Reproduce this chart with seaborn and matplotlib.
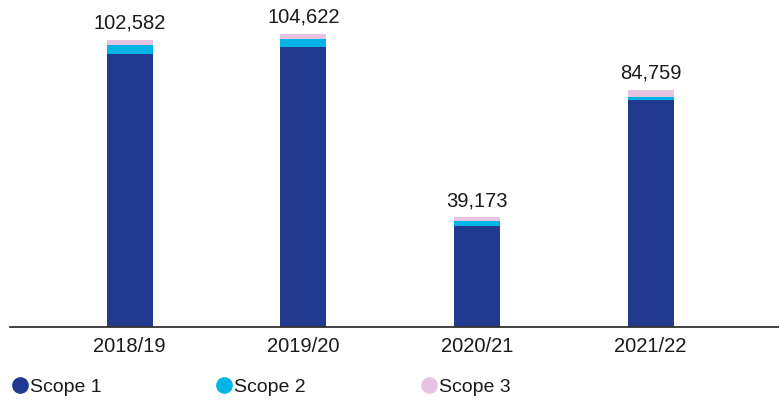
import matplotlib
matplotlib.use("Agg")
import matplotlib.pyplot as plt
import seaborn as sns
import pandas as pd
from matplotlib.lines import Line2D

years = ["2018/19", "2019/20", "2020/21", "2021/22"]
totals = [102582, 104622, 39173, 84759]
scope2 = [3200, 2850, 1800, 1100]
scope3 = [2100, 1800, 1400, 2500]
scope1 = [t - s2 - s3 for t, s2, s3 in zip(totals, scope2, scope3)]
labels = ["Scope 1", "Scope 2", "Scope 3"]
colors = ["#213a8f", "#00b5e6", "#e6c4e1"]

sns.set_theme(style="white")
plt.rcParams["font.family"] = ["Liberation Sans", "DejaVu Sans"]

df = pd.DataFrame({
    "year": years,
    "s1": scope1,
    "s12": [a + b for a, b in zip(scope1, scope2)],
    "s123": [a + b + c for a, b, c in zip(scope1, scope2, scope3)],
})

fig = plt.figure(figsize=(7.79, 4.0), dpi=100)
ax = fig.add_axes([10 / 779, 73 / 400, 769 / 779, 327 / 400])

w = 0.265
for col, c in zip(["s123", "s12", "s1"], [colors[2], colors[1], colors[0]]):
    sns.barplot(data=df, x="year", y=col, color=c, width=w, ax=ax, saturation=1,
                linewidth=0, edgecolor="none")

for i, t in enumerate(totals):
    ax.text(i, t + 2500, f"{t:,}", ha="center", va="bottom", fontsize=14.5, color="#1a1a1a")

ax.set_xlim(-0.69, 3.74)
ax.set_ylim(0, 116700)
ax.set_xlabel("")
ax.set_ylabel("")
ax.set_yticks([])
ax.tick_params(axis="x", length=0, pad=7, labelsize=14.5, colors="#1a1a1a")
for s in ["top", "right", "left"]:
    ax.spines[s].set_visible(False)
ax.spines["bottom"].set_color("#333333")
ax.spines["bottom"].set_linewidth(1.3)

xs = [10, 214, 419]
for x, lab, c in zip(xs, labels, colors):
    h = Line2D([], [], marker="o", linestyle="none", markersize=11, markerfacecolor=c, markeredgecolor=c)
    fig.legend(handles=[h], labels=[lab], loc="center left", bbox_to_anchor=(x / 779, 13 / 400),
               frameon=False, fontsize=14, handletextpad=0.05, borderaxespad=0, borderpad=0,
               handlelength=1.0, labelcolor="#1a1a1a")

fig.savefig("out.png", dpi=100)
